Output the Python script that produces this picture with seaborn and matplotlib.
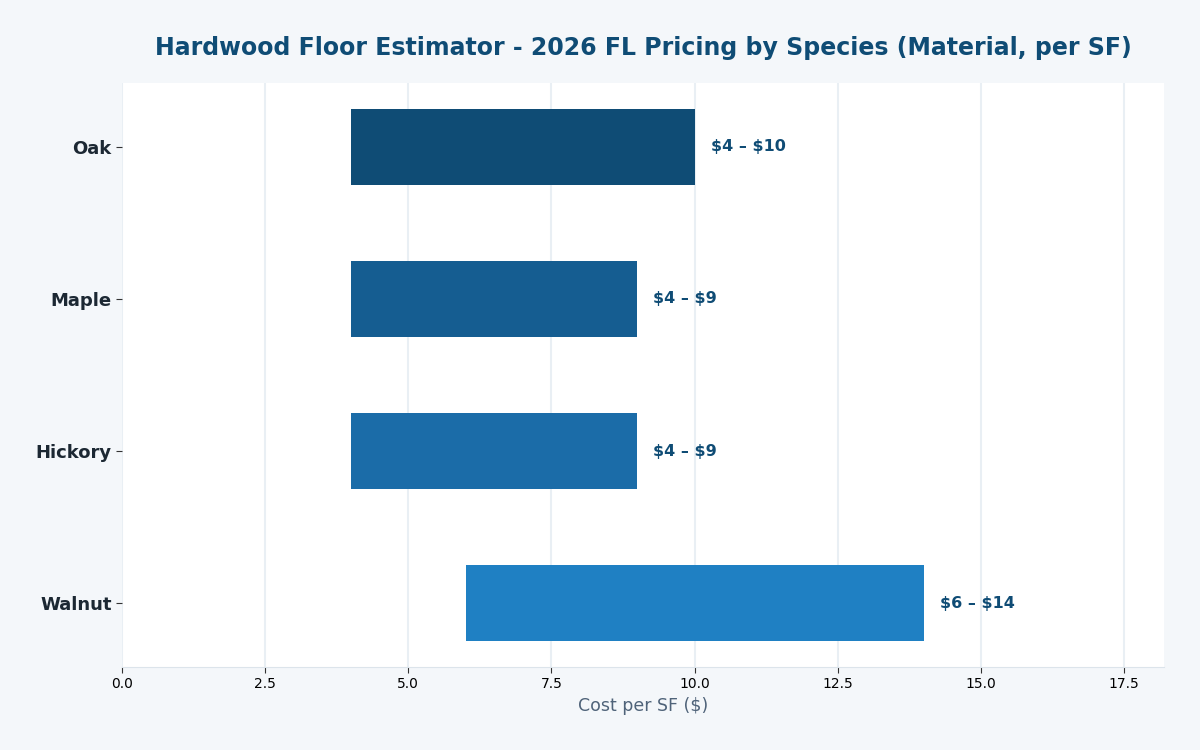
import matplotlib
matplotlib.use("Agg")
import matplotlib.pyplot as plt
import seaborn as sns
import pandas as pd

species = ["Oak", "Maple", "Hickory", "Walnut"]
low = [4, 4, 4, 6]
high = [10, 9, 9, 14]
bar_colors = ["#0f4c75", "#155d91", "#1b6ca8", "#1f80c3"]

df = pd.DataFrame({"species": species, "low": low, "high": high})
df["span"] = df["high"] - df["low"]

sns.set_style("white")
fig = plt.figure(figsize=(12, 7.5), dpi=100, facecolor="#f4f7fa")
ax = fig.add_axes([0.1017, 0.1107, 0.8683, 0.7786])
ax.set_facecolor("white")

sns.barplot(data=df, x="span", y="species", hue="species", palette=bar_colors,
            width=0.5, saturation=1, linewidth=0, legend=False, ax=ax, orient="h")

# shift each bar so it starts at the low end of the range
for patch, lo in zip(ax.patches, df["low"]):
    patch.set_x(lo)

for i, row in df.iterrows():
    ax.text(row["high"] + 0.28, i, f"${row['low']} – ${row['high']}",
            va="center", ha="left", fontsize=11.5, fontweight="bold",
            color="#0f4c75", parse_math=False)

ax.set_xlim(0, 18.2)
ax.set_ylim(3.42, -0.42)
ax.set_xticks([0, 2.5, 5, 7.5, 10, 12.5, 15, 17.5])
ax.set_xticklabels(["0.0", "2.5", "5.0", "7.5", "10.0", "12.5", "15.0", "17.5"])
ax.grid(axis="x", color="#e9eff4", linewidth=1.5)
ax.set_axisbelow(True)

for side in ["top", "right", "left"]:
    ax.spines[side].set_visible(False)
ax.spines["bottom"].set_color("#dce4eb")

ax.tick_params(axis="y", left=True, length=4, color="#333333", labelsize=13,
               labelcolor="#1c2833")
ax.tick_params(axis="x", bottom=True, length=4, color="#333333", labelsize=10,
               labelcolor="black")
for lab in ax.get_yticklabels():
    lab.set_fontweight("bold")

ax.set_ylabel("")
ax.set_xlabel("Cost per SF ($)", fontsize=12.5, color="#4f6379")
ax.set_title("Hardwood Floor Estimator - 2026 FL Pricing by Species (Material, per SF)",
             fontsize=17, fontweight="bold", color="#0f4c75", pad=20)

fig.savefig("out.png", dpi=100, facecolor=fig.get_facecolor())
